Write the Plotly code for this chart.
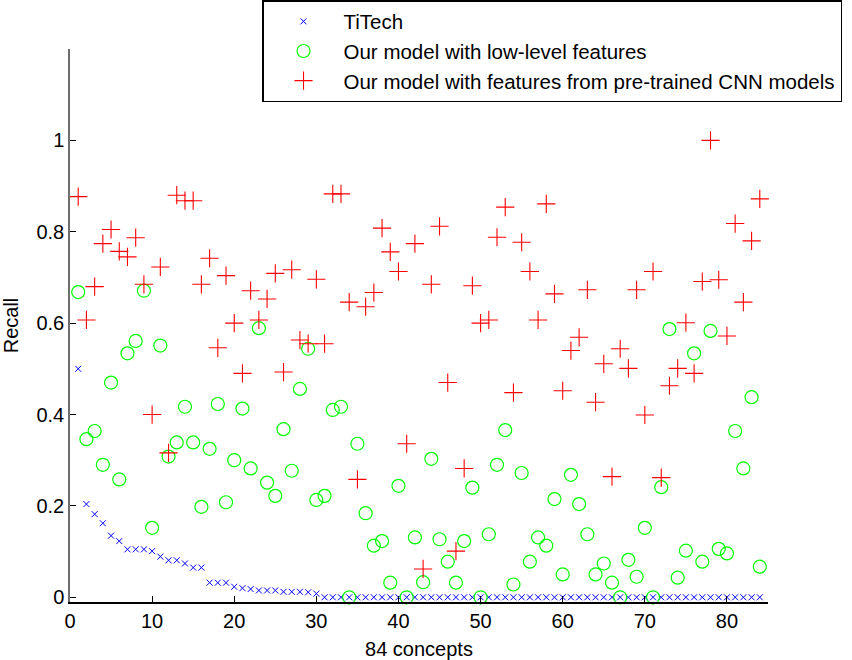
import plotly.graph_objects as go

concepts = list(range(1, 85))

titech = [0.5, 0.204, 0.182, 0.162, 0.135, 0.123, 0.105, 0.105, 0.105, 0.101,
          0.089, 0.081, 0.081, 0.074, 0.065, 0.065, 0.032, 0.032, 0.032, 0.023,
          0.02, 0.018, 0.015, 0.015, 0.015, 0.012, 0.012, 0.012, 0.011, 0.008] + [0.0] * 54

low_level = [0.668, 0.346, 0.364, 0.29, 0.47, 0.258, 0.534, 0.561, 0.671, 0.152,
             0.551, 0.308, 0.339, 0.417, 0.339, 0.198, 0.325, 0.423, 0.208, 0.30,
             0.413, 0.282, 0.589, 0.251, 0.222, 0.368, 0.277, 0.456, 0.544, 0.213,
             0.222, 0.41, 0.417, 0.0, 0.336, 0.184, 0.113, 0.123, 0.032, 0.244,
             0.0, 0.131, 0.033, 0.303, 0.127, 0.078, 0.032, 0.123, 0.24, 0.0,
             0.138, 0.29, 0.366, 0.028, 0.272, 0.078, 0.131, 0.113, 0.215, 0.05,
             0.268, 0.204, 0.138, 0.05, 0.074, 0.032, 0.0, 0.082, 0.045, 0.152,
             0.0, 0.241, 0.587, 0.043, 0.102, 0.534, 0.078, 0.583, 0.106, 0.096,
             0.364, 0.282, 0.438, 0.067]

cnn = [0.877, 0.607, 0.68, 0.774, 0.805, 0.757, 0.745, 0.787, 0.685, 0.40,
       0.723, 0.316, 0.88, 0.868, 0.868, 0.685, 0.742, 0.546, 0.704, 0.60,
       0.49, 0.671, 0.607, 0.653, 0.709, 0.493, 0.717, 0.563, 0.555, 0.696,
       0.555, 0.883, 0.883, 0.646, 0.258, 0.636, 0.667, 0.808, 0.756, 0.713,
       0.336, 0.774, 0.062, 0.685, 0.812, 0.47, 0.101, 0.282, 0.682, 0.60,
       0.607, 0.788, 0.854, 0.448, 0.777, 0.713, 0.607, 0.861, 0.664, 0.452,
       0.54, 0.569, 0.673, 0.427, 0.511, 0.264, 0.544, 0.501, 0.673, 0.399,
       0.713, 0.262, 0.463, 0.501, 0.601, 0.49, 0.691, 1.0, 0.695, 0.572,
       0.818, 0.646, 0.78, 0.872]

names = ["TiTech", "Our model with low-level features",
         "Our model with features from pre-trained CNN models"]

x_ticks = [0, 10, 20, 30, 40, 50, 60, 70, 80]
y_ticks = [0, 0.2, 0.4, 0.6, 0.8, 1.0]
y_tick_text = ["0", "0.2", "0.4", "0.6", "0.8", "1"]

FONT = "Liberation Sans, Arial, Helvetica, sans-serif"

fig = go.Figure()
fig.add_trace(go.Scatter(x=concepts, y=titech, mode="markers", name=names[0],
                         legendgroup="a",
                         marker=dict(symbol="x-thin-open", size=6, color="#0000ff",
                                     line=dict(width=1, color="#0000ff")),
                         cliponaxis=False))
fig.add_trace(go.Scatter(x=concepts, y=low_level, mode="markers", name=names[1],
                         legendgroup="b",
                         marker=dict(symbol="circle-open", size=13, color="#00ff00",
                                     line=dict(width=1.2, color="#00ff00")),
                         cliponaxis=False))
fig.add_trace(go.Scatter(x=concepts, y=cnn, mode="markers", name=names[2],
                         legendgroup="c",
                         marker=dict(symbol="cross-thin-open", size=13, color="#ff0000",
                                     line=dict(width=1.1, color="#ff0000")),
                         cliponaxis=False))

fig.update_layout(
    width=852, height=660,
    margin=dict(l=70, r=84, t=49, b=58, autoexpand=False),
    paper_bgcolor="white", plot_bgcolor="white",
    font=dict(family=FONT, size=20, color="black"),
    showlegend=True,
    legend=dict(x=0.2751, y=1.0886, xanchor="left", yanchor="top",
                bgcolor="white", bordercolor="black", borderwidth=1.5,
                font=dict(family=FONT, size=20.5, color="black"),
                itemwidth=70, tracegroupgap=0, traceorder="grouped"),
    xaxis=dict(range=[0, 85], tickvals=x_ticks, ticks="inside", ticklen=6,
               tickcolor="black", tickwidth=1, showline=True, linecolor="black",
               linewidth=1.5, showgrid=False, zeroline=False, mirror=False,
               automargin=False,
               tickfont=dict(family=FONT, size=20),
               title=dict(text="84 concepts", font=dict(family=FONT, size=20), standoff=11)),
    yaxis=dict(range=[-0.0103, 1.2], tickvals=y_ticks, ticktext=y_tick_text,
               ticks="inside", ticklen=6, tickcolor="black", tickwidth=1,
               showline=True, linecolor="#6e6e6e", linewidth=1.5, showgrid=False,
               zeroline=False, mirror=False, automargin=False,
               tickfont=dict(family=FONT, size=20),
               title=dict(text="Recall", font=dict(family=FONT, size=20), standoff=14)),
)

fig.write_html("out.html",
               config={"displayModeBar": False},
               post_script="document.body.style.margin='0';document.body.style.overflow='hidden';")
